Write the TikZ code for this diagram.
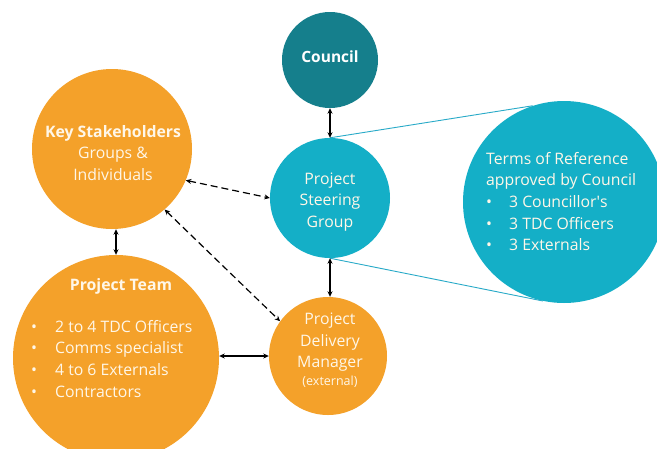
\documentclass[tikz,border=0pt]{standalone}
\usepackage{fontspec}
\setmainfont{Open Sans}
\usetikzlibrary{arrows.meta}
\definecolor{orangefill}{RGB}{244,161,42}
\definecolor{councilfill}{RGB}{21,127,140}
\definecolor{tealfill}{RGB}{20,175,199}
\definecolor{tealline}{RGB}{40,170,200}
\definecolor{lighttext}{RGB}{255,247,232}
\tikzset{
  bubble/.style={circle, inner sep=0pt, draw=none},
  orangebubble/.style={bubble, fill=orangefill},
  tealbubble/.style={bubble, fill=tealfill},
  label/.style={text=lighttext, font=\fontsize{15.8}{21.6}\selectfont, align=center, inner sep=0pt},
  link/.style={line width=1.1pt, {Stealth[length=5.5pt,width=5pt]}-{Stealth[length=5.5pt,width=5pt]}},
  dashlink/.style={link, line width=1.2pt, dash pattern=on 7pt off 4pt},
  callout/.style={draw=tealline, line width=0.9pt}
}
\begin{document}
\begin{tikzpicture}[x=1pt,y=-1pt]
\useasboundingbox (0,0) rectangle (657,448);
\clip (0,0) rectangle (657,448);
\fill[white] (0,0) rectangle (657,448);

% circles
\node[bubble, fill=councilfill, minimum size=96pt] (council) at (330,60) {};
\node[tealbubble, minimum size=120pt] (steer) at (330,198) {};
\node[tealbubble, minimum size=202pt] (terms) at (564,202) {};
\node[orangebubble, minimum size=160pt] (key) at (112,149) {};
\node[orangebubble, minimum size=206pt] (team) at (116,358) {};
\node[orangebubble, minimum size=118pt] (deliv) at (328,356) {};

% callout lines from the steering group to its terms of reference
\draw[callout] (steer.north) -- (terms.108);
\draw[callout] (steer.south) -- (terms.258);

% connectors
\draw[link] (council.south) -- (steer.north);
\draw[link] (steer.south) -- (deliv.north -| steer.south);
\draw[link] (team.north |- key.south) -- (team.north);
\draw[link] (team.east |- deliv.west) -- (deliv.west);
\draw[dashlink] (key.-23) -- (steer.west);
\draw[dashlink] (key.-49) -- (deliv.144);

% texts
\node[label, font=\fontsize{15.5}{21}\selectfont\bfseries, text=white] (councilt) at (330,57) {Council};
\node[label] (keyt) at (113,153) {{\bfseries Key Stakeholders}\\Groups \&\\Individuals};
\node[label] (steert) at (330,202) {Project\\Steering\\Group};
\node[label, align=left, anchor=north west] (termst) at (486,152) {Terms of Reference\\approved by Council\\
  \textbullet\hspace{17pt}3 Councillor\textquotesingle s\\
  \textbullet\hspace{17pt}3 TDC Officers\\
  \textbullet\hspace{17pt}3 Externals};
\node[label, font=\fontsize{15.8}{21.6}\selectfont\bfseries] (teamt) at (121,286) {Project Team};
\node[label, align=left, anchor=north west] (teamlist) at (31,320) {%
  \textbullet\hspace{18pt}2 to 4 TDC Officers\\
  \textbullet\hspace{18pt}Comms specialist\\
  \textbullet\hspace{18pt}4 to 6 Externals\\
  \textbullet\hspace{18pt}Contractors};
\node[label] (delivt) at (330,350) {Project\\Delivery\\Manager\\[-4pt]{\fontsize{12.5}{15}\selectfont (external)}};
\end{tikzpicture}
\end{document}
